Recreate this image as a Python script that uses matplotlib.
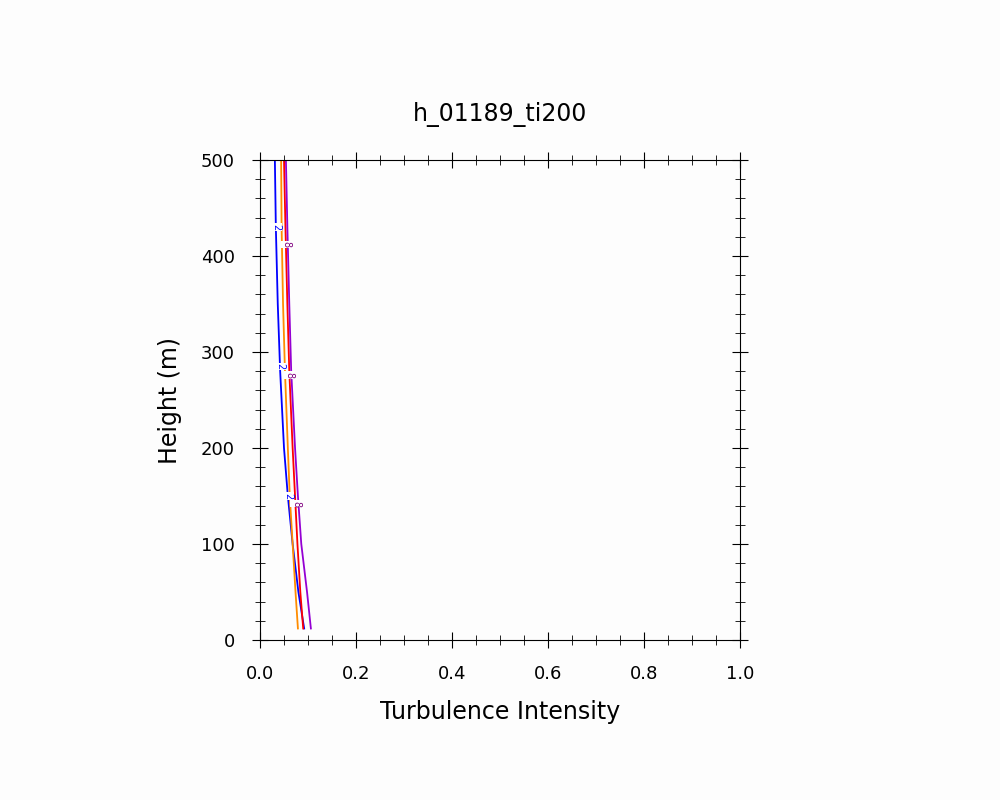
import matplotlib
matplotlib.use("Agg")
import matplotlib.pyplot as plt
from matplotlib.ticker import MultipleLocator

heights = [12, 50, 100, 150, 200, 280, 350, 430, 500]
blue   = [0.092, 0.080, 0.068, 0.058, 0.050, 0.042, 0.037, 0.033, 0.031]
orange = [0.079, 0.074, 0.068, 0.062, 0.058, 0.052, 0.048, 0.045, 0.044]
red    = [0.090, 0.084, 0.078, 0.073, 0.068, 0.061, 0.057, 0.053, 0.050]
purple = [0.106, 0.098, 0.086, 0.079, 0.073, 0.065, 0.061, 0.057, 0.054]

fig = plt.figure(figsize=(10, 8), dpi=100)
fig.patch.set_facecolor("#fdfdfd")
ax = fig.add_axes([0.26, 0.20, 0.48, 0.60])
ax.set_facecolor("#fdfdfd")
for v, c in [(blue, "blue"), (orange, "darkorange"), (red, "red"), (purple, "darkviolet")]:
    ax.plot(v, heights, color=c, lw=1.3)
for h, x in [(430, 0.033), (285, 0.042), (150, 0.058)]:
    ax.text(x, h, "2", color="blue", fontsize=7, rotation=-90, ha="center", va="center",
            bbox=dict(fc="white", ec="none", pad=0.5))
for h, x in [(412, 0.055), (276, 0.062), (142, 0.075)]:
    ax.text(x, h, "8", color="purple", fontsize=7, rotation=-90, ha="center", va="center",
            bbox=dict(fc="white", ec="none", pad=0.5))
ax.set_xlim(0, 1)
ax.set_ylim(0, 500)
ax.xaxis.set_major_locator(MultipleLocator(0.2))
ax.xaxis.set_minor_locator(MultipleLocator(0.05))
ax.yaxis.set_major_locator(MultipleLocator(100))
ax.yaxis.set_minor_locator(MultipleLocator(20))
ax.tick_params(which="both", direction="inout", top=True, right=True, labelsize=13)
ax.tick_params(which="major", length=12, pad=12)
ax.tick_params(which="minor", length=7)
ax.set_xlabel("Turbulence Intensity", fontsize=17, labelpad=12)
ax.set_ylabel("Height (m)", fontsize=17, labelpad=14)
ax.set_title("h_01189_ti200", fontsize=17, pad=28)
fig.savefig("out.png")
